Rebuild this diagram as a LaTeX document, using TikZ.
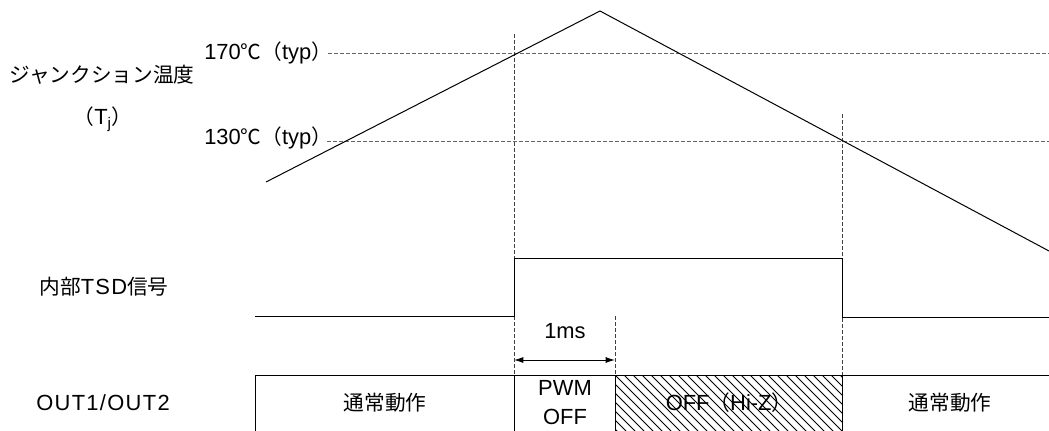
\documentclass[tikz,border=0pt]{standalone}
\usepackage{fontspec}
\setmainfont{Liberation Sans}[Scale=1.06]
\newfontfamily\jp{Noto Sans CJK JP}
\usetikzlibrary{arrows.meta}
\begin{document}
\begin{tikzpicture}[x=0.75pt,y=-0.75pt,
  font=\fontsize{15.5}{18}\selectfont,
  sig/.style={line width=0.75pt, black},
  guide/.style={black!60, dash pattern=on 3pt off 1.5pt, line width=0.75pt},
  vguide/.style={black!75, dash pattern=on 3pt off 1.5pt, line width=0.6pt},
  hatch/.style={line width=0.6pt, black},
  lbl/.style={inner sep=0pt, anchor=center},
  wide/.style={font=\fontsize{15.5}{18}\selectfont\addfontfeature{LetterSpace=6}},
  dim/.style={line width=0.75pt, {Latex[length=7pt,width=4.5pt]}-{Latex[length=7pt,width=4.5pt]}}]
\useasboundingbox (0,0) rectangle (1049,431);

% --- key coordinates
\coordinate (t0) at (266,182);
\coordinate (tp) at (600,11);
\coordinate (t1) at (1049,251);
\coordinate (h170a) at (328,54);
\coordinate (h170b) at (1049,54);
\coordinate (h130a) at (327,142);
\coordinate (h130b) at (1049,142);
\coordinate (vLtop) at (514,34);
\coordinate (vLbot) at (514,375);
\coordinate (vRtop) at (842,114);
\coordinate (vRbot) at (842,375);
\coordinate (vMtop) at (615,316);
\coordinate (vMbot) at (615,375);
\coordinate (a1) at (514,360);
\coordinate (a2) at (615,360);

% --- guides
\draw[guide] (h170a) -- (h170b);
\draw[guide] (h130a) -- (h130b);
\draw[vguide] (vLtop) -- (vLbot);
\draw[vguide] (vRtop) -- (vRbot);
\draw[vguide] (vMtop) -- (vMbot);

% --- junction temperature
\draw[sig] (t0) -- (tp) -- (t1);

% --- internal TSD signal
\draw[sig] (255,316) -- (514,316) -- (514,258) -- (842,258) -- (842,317) -- (1049,317);

% --- OUT hatch
\begin{scope}
  \clip (615,375) rectangle (842,431);
  \foreach \i in {-63,-54,...,240} {
    \draw[hatch] (615+\i,375) -- (675+\i,435);
  }
\end{scope}

% --- OUT row
\draw[sig] (255,431) -- (255,375) -- (1049,375);
\draw[sig] (514,375) -- (514,431);
\draw[sig] (615,375) -- (615,431);
\draw[sig] (842,375) -- (842,431);

% --- 1ms dimension
\draw[dim] (a1) -- (a2);
\node[lbl] (ms) at (565,331) {1ms};

% --- labels
\node[lbl] (tjl) at (102,75) {\jp ジャンクション温度};
\node[lbl] (tjs) at (103,119) {{\jp （}T\textsubscript{j}{\jp ）}};
\node[lbl, anchor=west] (l170) at (204,53) {170{\jp ℃（}typ{\jp ）}};
\node[lbl, anchor=west] (l130) at (204,138) {130{\jp ℃（}typ{\jp ）}};
\node[lbl, wide] (tsd) at (104,287) {{\jp 内部}TSD{\jp 信号}};
\node[lbl, wide] (out) at (103,403) {OUT1/OUT2};
\node[lbl] (n1) at (385,403) {\jp 通常動作};
\node[lbl] (pwm) at (565,388) {PWM};
\node[lbl] (off) at (565,417) {OFF};
\node[lbl] (hiz) at (729,403) {OFF{\jp （}Hi-Z{\jp ）}};
\node[lbl] (n2) at (950,403) {\jp 通常動作};
\end{tikzpicture}
\end{document}
